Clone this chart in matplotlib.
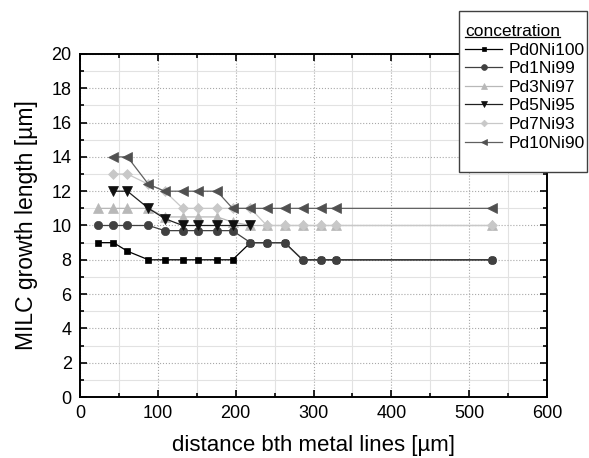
import numpy as np
import matplotlib
matplotlib.use('Agg')
import matplotlib.pyplot as plt
from matplotlib.lines import Line2D
from matplotlib.patches import Rectangle
from matplotlib.ticker import MultipleLocator

plt.rcParams['font.family'] = ['Liberation Sans', 'DejaVu Sans']

nan = np.nan
distance = [23, 43, 61, 88, 109, 132, 151, 176, 196, 219, 240, 263, 286, 309, 329, 529]

pd0ni100 = [9, 9, 8.5, 8, 8, 8, 8, 8, 8, 9, 9, 9, 8, 8, 8, 8]
pd1ni99 = [10, 10, 10, 10, 9.7, 9.7, 9.7, 9.7, 9.7, 9, 9, 9, 8, 8, 8, 8]
pd3ni97 = [11, 11, 11, 11, 10.5, 10.5, 10.5, 10.5, 10.2, 10, 10, 10, 10, 10, 10, 10]
pd5ni95 = [nan, 12, 12, 11, 10.4, 10, 10, 10, 10, 10, nan, nan, nan, nan, nan, nan]
pd7ni93 = [nan, 13, 13, 12.4, 12, 11, 11, 11, 11, 11, 10, 10, 10, 10, 10, 10]
pd10ni90 = [nan, 14, 14, 12.4, 12, 12, 12, 12, 11, 11, 11, 11, 11, 11, 11, 11]

labels = ['Pd0Ni100', 'Pd1Ni99', 'Pd3Ni97', 'Pd5Ni95', 'Pd7Ni93', 'Pd10Ni90']

fig = plt.figure(figsize=(5.89, 4.58), dpi=100)
ax = fig.add_axes([80 / 589, 1 - 397 / 458, 467 / 589, 343 / 458])

styles = [
    (pd0ni100, 's', '#000000', '#000000', 5),
    (pd1ni99, 'o', '#404040', '#404040', 6),
    (pd3ni97, '^', '#b8b8b8', '#b8b8b8', 6.5),
    (pd5ni95, 'v', '#101010', '#202020', 6.5),
    (pd7ni93, 'D', '#c8c8c8', '#c8c8c8', 4.8),
    (pd10ni90, '<', '#505050', '#606060', 6.5),
]

handles = []
for (vals, mk, mc, lc, ms), lab in zip(styles, labels):
    h, = ax.plot(distance, vals, color=lc, lw=0.9, marker=mk, markersize=ms,
                 markerfacecolor=mc, markeredgecolor=mc, markeredgewidth=0.5,
                 label=lab, zorder=3)
    handles.append(h)

ax.set_xlim(0, 600)
ax.set_ylim(0, 20)
ax.xaxis.set_major_locator(MultipleLocator(100))
ax.xaxis.set_minor_locator(MultipleLocator(50))
ax.yaxis.set_major_locator(MultipleLocator(2))
ax.yaxis.set_minor_locator(MultipleLocator(1))

ax.grid(which='major', color='#a8a8a8', linestyle=':', linewidth=0.8, zorder=0)
ax.grid(which='minor', color='#e2e2e2', linestyle='-', linewidth=0.8, zorder=0)
ax.set_axisbelow(True)

ax.tick_params(which='both', direction='in', top=True, right=True, width=1.2,
               labelsize=13, colors='black')
ax.tick_params(which='major', length=5, pad=6)
ax.tick_params(which='minor', length=3)
for sp in ax.spines.values():
    sp.set_linewidth(1.4)

ax.set_xlabel('distance bth metal lines [µm]', fontsize=16, labelpad=9)
ax.set_ylabel('MILC growth length [µm]', fontsize=16.5, labelpad=10)

# legend box drawn by hand so the padding matches the original
fig.add_artist(Rectangle((459 / 589, 1 - 171.5 / 458), 128 / 589, 161 / 458,
                         transform=fig.transFigure, facecolor='white',
                         edgecolor='#404040', linewidth=1.0, zorder=8))
leg = fig.legend(handles=handles, title='concetration', loc='upper left',
                 bbox_to_anchor=(465 / 589, 1 - 24 / 458), bbox_transform=fig.transFigure,
                 fontsize=12.5, title_fontsize=12.5, frameon=False, markerscale=0.7,
                 handlelength=2.15, handletextpad=0.35, labelspacing=0.2,
                 borderpad=0, borderaxespad=0)
leg._legend_box.align = 'left'
leg.set_zorder(9)

fig.canvas.draw()
renderer = fig.canvas.get_renderer()
tb = leg.get_title().get_window_extent(renderer)
inv = fig.transFigure.inverted()
(x0, y0), (x1, y1) = inv.transform([(tb.x0, tb.y0 + 2), (tb.x1, tb.y0 + 2)])
fig.add_artist(Line2D([x0, x1], [y0, y0], color='black', lw=0.9,
                      transform=fig.transFigure, zorder=11))

fig.savefig('out.png', dpi=100)
